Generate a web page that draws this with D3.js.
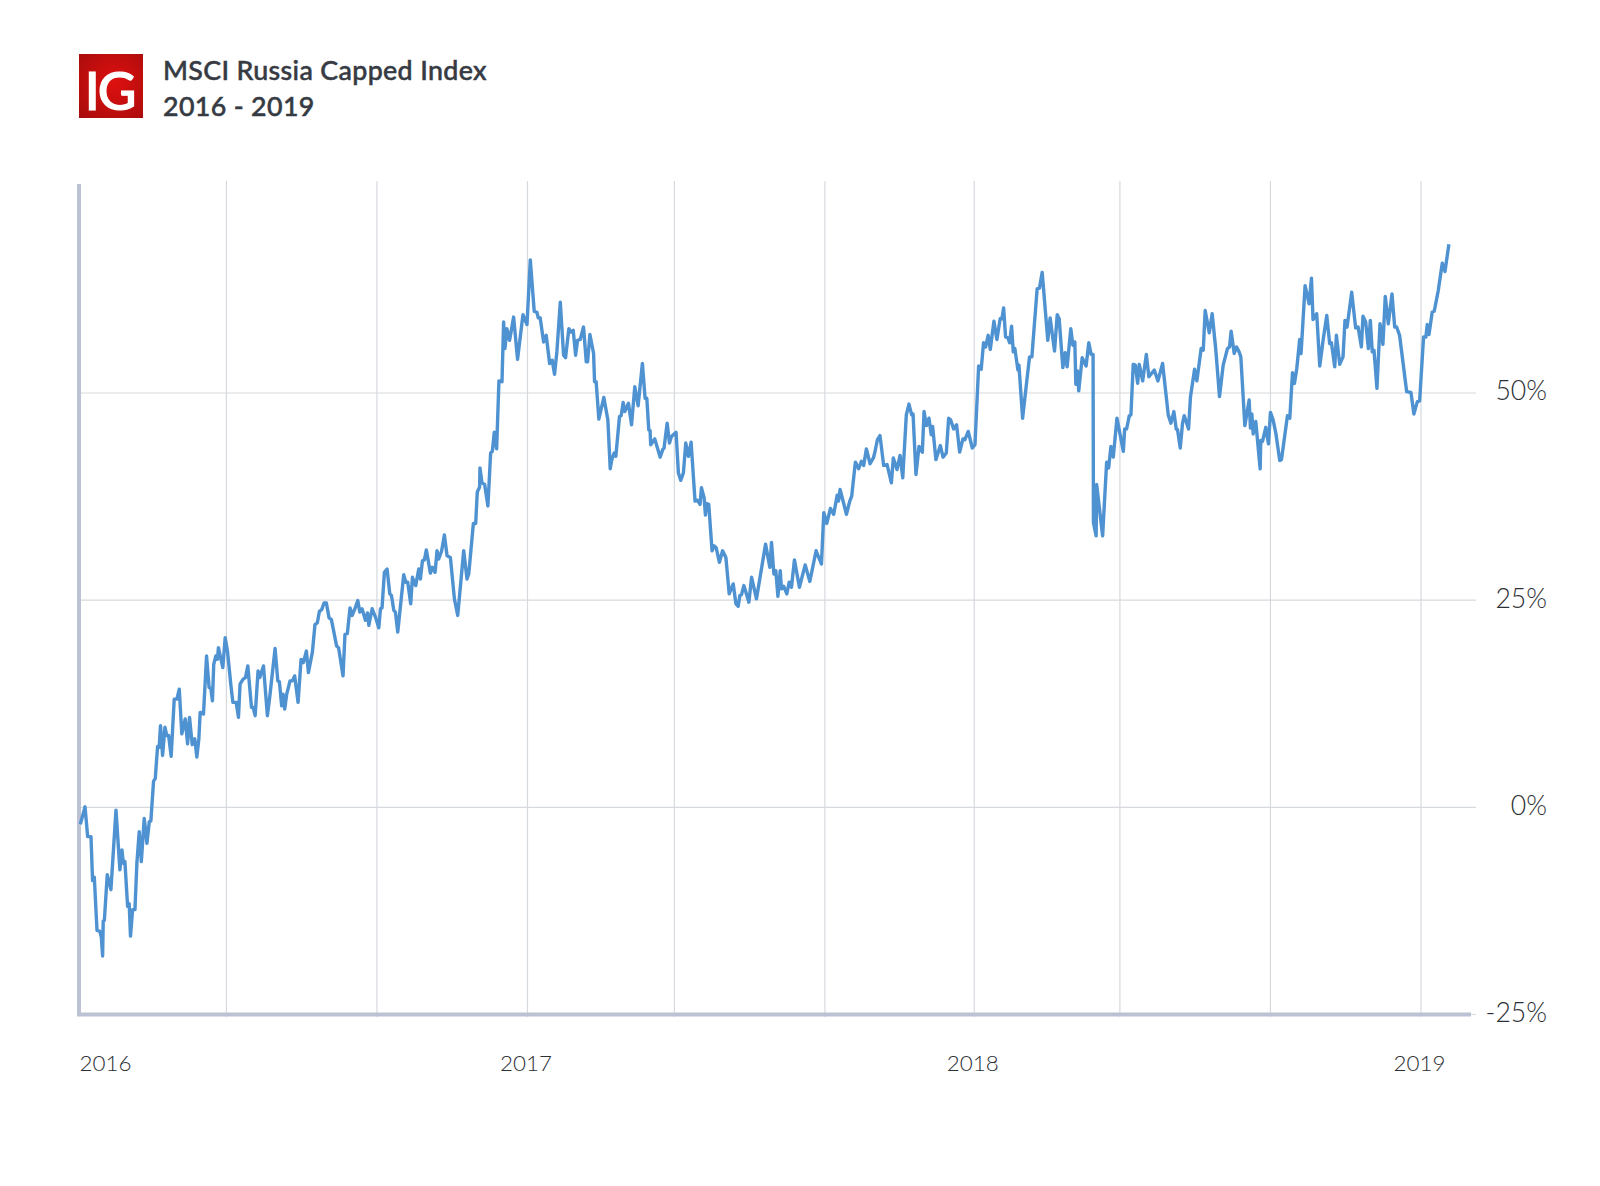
<!DOCTYPE html>
<html><head><meta charset="utf-8">
<script src="https://cdnjs.cloudflare.com/ajax/libs/d3/7.8.5/d3.min.js"></script>
<style>html,body{margin:0;padding:0;background:#fff}svg{display:block}</style>
</head><body><div id="chart"></div>
<script>
const titleLines = ["MSCI Russia Capped Index", "2016 - 2019"];
const logoText = "IG";
const yTicks = [-25, 0, 25, 50];
const gridDates = ["2016-04-30","2016-08-31","2017-01-01","2017-05-01","2017-09-01","2018-01-01","2018-04-30","2018-08-31","2019-01-01"];
const yearLabels = ["2016","2017","2018","2019"];
const startDate = new Date(2016, 0, 1);
const dayOffsets = [1.1,4.9,7.1,9.8,11.1,12.5,14.7,16.9,18.2,19.3,19.8,20.7,23.1,26.1,30.2,33.4,35.1,36.2,37.5,39.7,41,42.1,43.8,45.7,47.3,49.2,50.9,53.3,55.5,57.4,58.7,60.9,62.3,64.2,65.5,66.6,68.3,70.2,71.8,73.2,75.3,77.8,80,81.9,84,86.8,88.7,90.3,92.5,94.6,96.3,97.9,99,101.7,104.2,106.3,107.7,109,110.1,111.8,113.1,113.9,117.5,119.4,121.3,124,125.7,128.4,130.3,131.6,134.1,136,137.9,140.9,142.2,143.9,146.3,147.7,150.7,153.9,155.8,160.2,162.4,163.7,165.6,166.7,168.1,169.7,172.4,174.3,176.2,179,181.4,183.3,185.8,187.4,190.7,192.8,194.7,196.4,198.3,200.2,202.1,204.3,206.2,210.5,212.1,215.7,217.3,219.2,221.4,223.2,225.9,227.8,229.4,231.3,234,235.7,236.8,239.5,242.2,244.9,246.3,247.6,249.5,251.7,253.9,255.3,257.2,258.5,260.4,265.3,267,268.6,271,272.4,275.1,277.6,278.9,280.6,282.2,283.8,287.1,288.7,290.9,292.5,293.9,296.3,298.5,300.7,303.4,306.7,309.4,314.3,317,318.4,322.2,324.1,325.4,327.3,327.6,329.2,331.4,334.1,336.3,337.7,339.3,341.2,343.1,345.6,346.9,348,349.6,351.8,355.1,358.3,360.5,362.7,366,368.7,371.9,374.1,375.2,376.8,379.6,381.7,384.5,386.6,388.5,390.4,393.2,395.9,397.5,400.2,401.9,403.8,405.7,407.3,409.5,412.2,414.4,415.5,417.4,420.4,421.2,422.5,424.7,428.8,432.1,434,435.3,437.2,438.6,441.6,442.9,444.6,445.9,448.9,451.4,454.1,456.8,460.3,462.5,463.9,465.5,466.6,467.1,470.4,474.8,476.9,478,480.5,482.4,484,487.8,489.7,491.6,493.8,495.7,497.9,500.1,503.3,505.2,507.4,508.5,510.7,511.8,512.8,514.5,517.2,518.8,520.5,523.2,525.8,528.5,531.2,534.5,536.7,538.6,539.9,541.3,543.2,547.3,549.5,553.5,560.9,564.4,565.8,567.7,569.3,571,572.9,573.9,575.8,578.3,580.2,582.1,584.5,588.6,593.3,597.1,602.2,606.6,608.5,610.9,613.9,616.6,619.4,620.5,621.8,627,629.7,631.3,634.3,637,639.2,641.1,643.3,646.3,649,650.1,652.3,654.4,657.4,660.2,663.7,665.3,668.3,670.8,673,675.9,678.1,680.3,681.4,683.8,686.3,689,690.4,692.3,694.4,696.3,697.4,700.1,703.7,705.9,708.6,710.5,712.1,714.6,717,719.5,722.2,723.8,726.5,729.8,732,735,737.1,739,740.7,742.8,744.5,747.5,749.9,752.6,754,755.4,757,758.9,760.3,761.9,763.3,764.6,767.1,767.9,770.9,774.4,776.6,778.5,782.8,784.7,786.9,791.5,793.4,797,799.2,800.8,803.8,805.7,807.3,810.3,812,813.6,814.4,815.7,816.8,819.6,822.8,825,826.9,828.5,828.8,831,831.4,836.3,839.6,841.2,843.1,845,848,853.2,854.3,855.9,858.1,859.4,861.3,863,864.9,866.2,869,872,874.1,878.5,881.5,885.3,889.9,892.1,894.5,896.4,897.5,899.7,901.6,903,906.5,908.1,911.4,913.3,916.8,918.5,920.1,923.4,925.8,928.8,931.8,934.8,938.3,940,941.3,943.8,945.7,947.8,949.2,952.5,956,957.1,958.2,959.3,961.4,965,965.5,966.9,969.6,971.8,973.4,975.6,977.8,981,982.4,987.3,989.2,991.4,993,994.9,997.3,998.4,1001.7,1005,1006.9,1008.2,1011.2,1013.7,1016.4,1019.4,1021.8,1023.2,1025.9,1027.3,1030,1032.7,1034.3,1036,1039.8,1043,1045,1047.7,1049,1051.2,1053.4,1055,1056.6,1058,1060.4,1062.9,1065.3,1067.2,1069.7,1072.7,1074.9,1076.5,1078.9,1084.7,1088.2,1090.6,1093.4,1095.3,1098.5,1100.4,1101.5,1102.9,1105.6,1107.2,1110.5,1113.8,1116,1119.2];
const indexChange = [-2.1,0,-3.6,-3.6,-8.9,-8.5,-14.9,-15,-15.7,-18,-13.8,-13.7,-8.2,-10,-0.4,-7.6,-5.2,-6.8,-6.6,-12,-11.7,-15.6,-12.4,-12.4,-6.8,-3,-6.6,-1.4,-4.4,-1.8,-1.7,3.1,3.4,7.3,7.2,9.8,6.2,9.6,8.6,8.6,6.1,13,13,14.2,8.8,10.6,7.6,10.8,7.5,8.2,6,8.2,11.4,11.2,18.2,14.4,14.3,12.8,17.2,18.2,17.8,19.2,16.8,20.4,18.8,14.8,12.6,12.6,10.8,14.8,15.4,15.6,17,12,12,11,16.4,15.6,17,11,13.2,19.1,15.2,15.1,12.2,13.6,11.8,13.6,15.2,15.2,15.8,12.6,17.8,17.4,18.8,16.2,18.7,22,22.2,23.6,23.8,24.6,24.6,22.8,22.6,19.4,19.2,15.8,20.8,20.9,24,23.1,24.1,24.9,23.5,23.9,22.5,23.4,21.9,23.9,22.9,21.6,23.9,24,28.3,28.7,25.7,25.5,23.7,23.5,21.1,28,27.1,27.1,24.5,27.7,26.7,28.7,27.5,29.7,29.8,31,28.2,28.9,28.3,30.9,29.9,30.9,32.8,30.3,30.1,25.1,23.1,30.9,27.5,28.1,34.2,34.2,38,38.6,40.9,39.1,38.9,36.3,42.7,42.9,45.2,43.2,51.4,51.3,58.5,55.3,57.7,56.3,59.1,54,56.7,59.4,58.2,66,59.8,59.7,59,59,56.1,56.9,53.5,53.9,52.2,54.9,60.9,54.5,54.2,57.7,57.3,57.5,54.5,56.3,56.4,57.9,53.7,53.7,57,54.7,51.3,51.3,46.8,49.4,46.7,40.8,41.9,42.7,42.3,47.1,47.2,48.8,47.7,48.7,46.1,50.7,48.4,53.5,49.3,49.3,45.5,45.4,43.7,44.4,42.2,43.1,43.3,46.3,43.9,44.7,45.2,40.3,39.4,40.3,43.9,42.3,44,36.9,37,36.5,38.5,37.3,35.2,36.6,36.5,30.9,31.5,31.3,29.5,30.9,30.1,25.7,26.9,24.5,24.2,25.5,25.6,26.7,24.7,27.7,25.1,31.7,28.9,31.9,28.1,28.5,25.4,28.5,26.3,26.6,25.7,27.1,26.5,29.8,26.5,29.2,27.2,30.9,29.3,35.5,34.2,36,35.3,37.6,36.9,38.3,35.3,36.9,37.5,41.6,40.8,41.7,41.2,43.2,41.4,42.1,42.7,44.3,44.8,41.2,41.3,39.1,42.1,40.7,42.4,39.7,47.3,48.6,47.3,47.4,40.1,43.5,42.8,47.7,46,46.9,44.9,45.9,41.9,43.6,42.2,42.7,46.9,46.7,45.6,46.1,42.8,44.4,44.3,45.3,43.3,43.7,53.2,52.8,56,55.5,56.9,55.2,58.6,56.4,58.9,58.9,60.2,56.7,56.6,56,58,54.9,55.3,52.7,53.3,46.9,51.5,54.3,54.3,62.5,62.6,64.5,56.3,59,55,59.4,58.9,53,54.8,53.1,57.7,55.7,56.1,51,52.6,50.2,54.2,53.2,56,54.6,54.6,34.3,32.7,38.9,32.7,41.6,40.9,43.5,42.2,46.9,42.9,45.6,45.6,47.2,47.3,53.4,53.3,51.1,53.4,51.4,54.6,51.9,52.7,51.4,53.5,47.3,46.3,47.7,45.6,45.5,43.3,46.3,47.2,45.6,49.5,52.8,51.4,55.3,55.1,59.9,57.2,59.5,55.1,49.5,53.3,55.3,55.5,57.4,54.7,55.5,54.9,54.3,46,49.1,45.7,47.4,45,46.5,40.8,44.2,44.1,45.8,43.8,47.6,46.7,45.1,41.8,41.9,47.2,46.9,52.4,51.1,52.9,56.4,54.7,62.9,60.7,63.8,58.8,59.5,53.2,56.3,59.3,55.9,56,53.1,56.9,53.4,54.3,58.7,57.9,62.1,57.8,57.9,55.5,59.2,58.5,55.3,58.7,54.9,55.1,50.5,58.3,55.8,61.6,58.3,61.9,57.9,57.9,56.9,50.1,50,47.4,48.9,49,56.7,56.7,58.2,57,59.7,59.8,62.3,65.6,64.6,67.9];

const width = 1600, height = 1186;
const svg = d3.select("#chart").append("svg").attr("width", width).attr("height", height);
const defs = svg.append("defs");
const grad = defs.append("radialGradient").attr("id", "logoGrad").attr("cx", "55%").attr("cy", "45%").attr("r", "75%");
grad.append("stop").attr("offset", "0%").attr("stop-color", "#de100f");
grad.append("stop").attr("offset", "100%").attr("stop-color", "#a80c0c");

const plotLeft = 79, plotBottom = 1014, plotTop = 181, gridRight = 1476, axisRight = 1471;
const x = d3.scaleTime().domain([startDate, new Date(2019, 0, 1)]).range([plotLeft, 1420.5]);
const y = d3.scaleLinear().domain([-25, 50]).range([plotBottom, 392.5]);
const parseDate = d3.timeParse("%Y-%m-%d");
const labelFont = "Lato, 'Open Sans', sans-serif";

// Vertical gridlines
const xGrid = d3.axisBottom(x).tickValues(gridDates.map(parseDate))
  .tickSize(-(plotBottom - plotTop)).tickFormat("");
const gx = svg.append("g").attr("transform", `translate(0,${plotBottom})`).call(xGrid);
gx.select(".domain").remove();
gx.selectAll(".tick line").attr("stroke", "#d6d9de").attr("stroke-width", 1.2).attr("y1", 3);

// Year labels
const xLabels = d3.axisBottom(x).tickValues(yearLabels.map(d => parseDate(d + "-01-01")))
  .tickSize(0).tickFormat(d3.timeFormat("%Y"));
const gl = svg.append("g").attr("transform", `translate(0,${plotBottom})`).call(xLabels);
gl.select(".domain").remove();
gl.selectAll(".tick text").attr("y", 50).attr("dy", "0.32em").attr("dx", -1.5)
  .attr("font-family", labelFont).attr("font-weight", 300)
  .attr("font-size", 22.4).attr("fill", "#2d3036");
gl.selectAll(".tick").filter(d => +d === +startDate).select("text")
  .attr("text-anchor", "start").attr("x", 0).attr("dx", 0);

// Horizontal gridlines with percent labels
const yAxis = d3.axisRight(y).tickValues(yTicks).tickSize(gridRight - plotLeft).tickPadding(0).tickFormat(d => d + "%");
const gy = svg.append("g").attr("transform", `translate(${plotLeft},0)`).call(yAxis);
gy.select(".domain").remove();
gy.selectAll(".tick line").attr("stroke", "#d6d9de").attr("stroke-width", 1.2);
gy.selectAll(".tick text").attr("text-anchor", "end").attr("x", 1547 - plotLeft).attr("dy", "0.28em")
  .attr("font-family", labelFont).attr("font-weight", 300)
  .attr("font-size", 26.6).attr("fill", "#2d3036");

// Axis rails
svg.append("line").attr("x1", plotLeft).attr("x2", plotLeft).attr("y1", 184).attr("y2", plotBottom + 2)
  .attr("stroke", "#bcc2d4").attr("stroke-width", 4);
svg.append("line").attr("x1", plotLeft - 2).attr("x2", axisRight).attr("y1", plotBottom + 0.5).attr("y2", plotBottom + 0.5)
  .attr("stroke", "#bcc2d4").attr("stroke-width", 4);

// Series
const series = dayOffsets.map((d, i) => ({ date: d3.timeHour.offset(startDate, Math.round(d * 24)), value: indexChange[i] }));
const line = d3.line().x(d => x(d.date)).y(d => y(d.value)).curve(d3.curveLinear);
svg.append("path").datum(series).attr("d", line).attr("fill", "none")
  .attr("stroke", "#4f92d1").attr("stroke-width", 3.4).attr("stroke-linejoin", "round");

// Header
svg.append("rect").attr("x", 79).attr("y", 54).attr("width", 64).attr("height", 64).attr("fill", "url(#logoGrad)");
svg.append("text").attr("x", 109.5).attr("y", 110).attr("text-anchor", "middle")
  .attr("font-family", "Lato, sans-serif").attr("font-weight", 500).attr("font-size", 53)
  .attr("letter-spacing", -2).attr("fill", "#fff").attr("stroke", "#fff").attr("stroke-width", 1.2).text(logoText);
svg.selectAll("text.title").data(titleLines).join("text").attr("class", "title")
  .attr("x", 163).attr("y", (d, i) => 79.5 + i * 36)
  .attr("font-family", "Lato, sans-serif").attr("font-weight", 500).attr("font-size", 26.8)
  .attr("letter-spacing", 0.35).attr("fill", "#363a42").attr("stroke", "#363a42").attr("stroke-width", 0.5).text(d => d);
</script></body></html>
